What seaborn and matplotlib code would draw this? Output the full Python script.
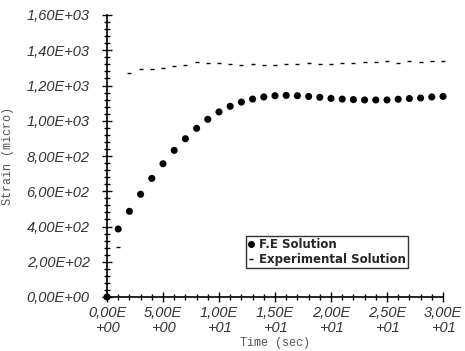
import numpy as np
import pandas as pd
import matplotlib
matplotlib.use("Agg")
import matplotlib.pyplot as plt
from matplotlib.lines import Line2D
from matplotlib.ticker import MultipleLocator
import seaborn as sns

# ---- data ----
fe_time = list(range(0, 31))
fe_strain = [0, 386, 486, 583, 673, 756, 832, 898, 957, 1008, 1050, 1082, 1106, 1123,
             1135, 1142, 1144, 1142, 1138, 1133, 1127, 1123, 1120, 1118, 1118, 1118,
             1122, 1126, 1129, 1135, 1138]
exp_time = list(range(1, 31))
exp_strain = [285, 1269, 1292, 1295, 1301, 1313, 1318, 1332, 1328, 1326, 1320, 1316, 1322,
              1318, 1316, 1322, 1324, 1326, 1322, 1324, 1326, 1330, 1332, 1332, 1341,
              1328, 1337, 1332, 1341, 1341]
x_ticks = [0, 5, 10, 15, 20, 25, 30]
x_tick_labels = ["0,00E\n+00", "5,00E\n+00", "1,00E\n+01", "1,50E\n+01", "2,00E\n+01",
                 "2,50E\n+01", "3,00E\n+01"]
y_ticks = [0, 200, 400, 600, 800, 1000, 1200, 1400, 1600]
y_tick_labels = ["0,00E+00", "2,00E+02", "4,00E+02", "6,00E+02", "8,00E+02",
                 "1,00E+03", "1,20E+03", "1,40E+03", "1,60E+03"]
series_names = ["F.E Solution", "Experimental Solution"]

fe_df = pd.DataFrame({"Time": fe_time, "Strain": fe_strain})
exp_df = pd.DataFrame({"Time": exp_time, "Strain": exp_strain})

sns.set_style("white")
fig = plt.figure(figsize=(4.65, 3.51), dpi=100)
ax = fig.add_axes([107 / 465, 1 - 297 / 351, (443 - 107) / 465, (297 - 15) / 351])

sns.scatterplot(data=fe_df, x="Time", y="Strain", ax=ax, marker="o", s=26,
                color="black", edgecolor="none", clip_on=False, zorder=5)
sns.scatterplot(data=exp_df, x="Time", y="Strain", ax=ax, marker="_", s=9,
                color="black", linewidth=1.0, clip_on=False, zorder=5)

ax.set_xlim(0, 30)
ax.set_ylim(0, 1600)

ax.set_xticks(x_ticks)
ax.set_xticklabels(x_tick_labels, fontstyle="italic", family="Liberation Sans",
                   fontsize=10.5, linespacing=1.1)
ax.set_yticks(y_ticks)
ax.set_yticklabels(y_tick_labels, fontstyle="italic", family="Liberation Sans",
                   fontsize=10.5)
ax.xaxis.set_minor_locator(MultipleLocator(1))
ax.yaxis.set_minor_locator(MultipleLocator(40))
ax.tick_params(which="major", direction="inout", length=7, width=1, color="black",
               bottom=True, left=True, labelcolor="#333333")
ax.tick_params(axis="y", which="major", pad=9)
ax.tick_params(axis="x", which="major", pad=3)
ax.tick_params(which="minor", direction="inout", length=5, width=1, color="black",
               bottom=True, left=True)

for s in ["top", "right"]:
    ax.spines[s].set_visible(False)
for s in ["left", "bottom"]:
    ax.spines[s].set_color("black")
    ax.spines[s].set_linewidth(1.2)

ax.set_xlabel("Time (sec)", family="Liberation Mono", fontsize=8.5, color="#555555",
              labelpad=1)
ax.set_ylabel("Strain (micro)", family="Liberation Mono", fontsize=8.5, color="#555555",
              labelpad=9)

handles = [Line2D([], [], marker="o", linestyle="", color="black", markersize=4),
           Line2D([], [], marker="_", linestyle="", color="black", markersize=3,
                  markeredgewidth=1)]
leg = ax.legend(handles, series_names, loc="lower left",
                bbox_to_anchor=((246 - 107) / 336, (297 - 268) / 282),
                prop={"family": "DejaVu Sans", "weight": "bold", "size": 8.5},
                frameon=True, fancybox=False, edgecolor="black", handlelength=0.5,
                handletextpad=0.4, borderpad=0.2, labelspacing=0.1, borderaxespad=0)
leg.get_frame().set_linewidth(1.0)

fig.savefig("out.png", dpi=100)
